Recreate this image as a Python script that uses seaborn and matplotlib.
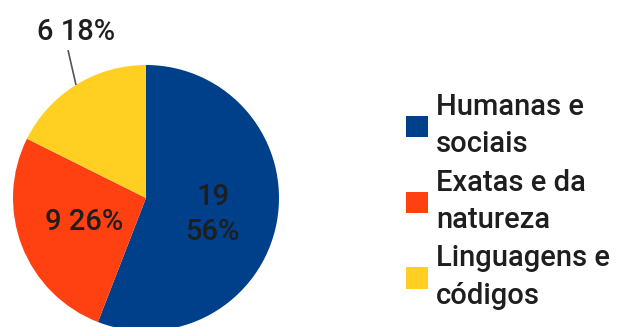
import numpy as np
import matplotlib
matplotlib.use("Agg")
import matplotlib.pyplot as plt
import seaborn as sns

# Distribution of areas of knowledge
categories = ["Humanas e\nsociais", "Exatas e da\nnatureza", "Linguagens e\ncódigos"]
counts = [19, 9, 6]
colors = ["#00408a", "#ff4112", "#ffd021"]

sns.set_theme(style="white")
plt.rcParams["font.family"] = ["Roboto", "DejaVu Sans"]

W, H = 622, 327
fig = plt.figure(figsize=(W / 100, H / 100), dpi=100)
ax = fig.add_axes([0, 0, 1, 1])

cx, cy, r = 146, H - 198, 133
total = sum(counts)
wedges, _ = ax.pie(counts, colors=sns.color_palette(colors), startangle=90,
                   counterclock=False, center=(cx, cy), radius=r,
                   wedgeprops=dict(linewidth=0))
ax.set_xlim(0, W)
ax.set_ylim(0, H)
ax.set_aspect("equal")
ax.axis("off")

txt_color = "#1e1e1e"
fs = 21
fw = "medium"

def mid_angle(w):
    return np.deg2rad((w.theta1 + w.theta2) / 2)

pct = [round(100 * c / total) for c in counts]

# Humanas: value and percent on two lines inside the wedge
a = mid_angle(wedges[0])
ax.text(cx + 0.51 * r * np.cos(a), cy + 0.51 * r * np.sin(a) - 4,
        f"{counts[0]}\n{pct[0]}%", ha="center", va="center",
        fontsize=fs, fontweight=fw, color=txt_color, linespacing=1.3)

# Exatas: single line inside the wedge
a = mid_angle(wedges[1])
ax.text(cx + 0.50 * r * np.cos(a), cy + 0.50 * r * np.sin(a),
        f"{counts[1]} {pct[1]}%", ha="center", va="center",
        fontsize=fs, fontweight=fw, color=txt_color)

# Linguagens: outside label with a leader line from the wedge edge
a = mid_angle(wedges[2])
x0, y0 = cx + r * np.cos(a), cy + r * np.sin(a)
ax.plot([x0, 68], [y0, H - 50], color="#555555", lw=1.2, solid_capstyle="butt")
ax.text(76, H - 32, f"{counts[2]} {pct[2]}%", ha="center", va="center",
        fontsize=fs, fontweight=fw, color=txt_color)

leg = ax.legend(wedges, categories, loc="upper left",
                bbox_to_anchor=(406 / W, 1 - 93 / H), frameon=False,
                prop=dict(size=fs, weight=fw), handlelength=0.74,
                handleheight=0.74, handletextpad=0.3, labelspacing=0.36,
                borderpad=0, borderaxespad=0)
for t in leg.get_texts():
    t.set_color(txt_color)
    t.set_linespacing(1.42)

fig.savefig("out.png", dpi=100)
